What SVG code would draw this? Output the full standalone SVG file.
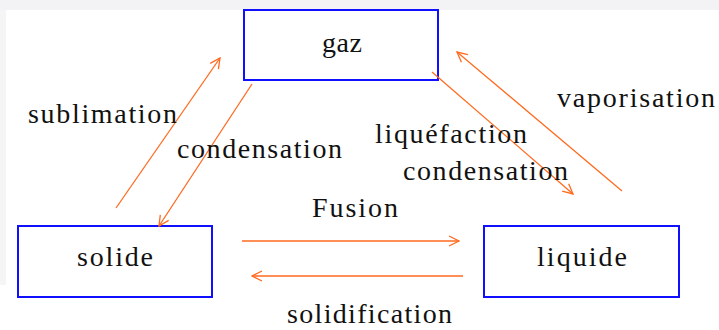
<svg xmlns="http://www.w3.org/2000/svg" width="719" height="330" viewBox="0 0 719 330">
<style>
.box{fill:#fff;stroke:#1010ff;stroke-width:2}
.lbl{font-family:"Liberation Serif","Times New Roman",serif;font-size:28px;fill:#111}
.arr{stroke:#ff6a1f;stroke-width:1.3;fill:none;marker-end:url(#ah)}
</style>
<defs>
<marker id="ah" viewBox="0 0 12 12" refX="11" refY="6" markerWidth="12" markerHeight="12" markerUnits="userSpaceOnUse" orient="auto">
<path d="M1,1 L11,6 L1,11" fill="none" stroke="#ff6a1f" stroke-width="1.3"/>
</marker>
</defs>
<rect width="719" height="330" fill="#fff"/>
<rect x="0" y="0" width="719" height="10" fill="#f3f3f5"/>
<rect x="0" y="10" width="6" height="275" fill="#f5f5f5"/>
<g id="gaz">
<rect class="box" x="244" y="10" width="194" height="70"/>
<text class="lbl" x="322" y="52" textLength="40">gaz</text>
</g>
<g id="solide">
<rect class="box" x="18" y="226" width="194" height="71"/>
<text class="lbl" x="77" y="266" textLength="76">solide</text>
</g>
<g id="liquide">
<rect class="box" x="484" y="226" width="195" height="71"/>
<text class="lbl" x="537" y="266" textLength="90">liquide</text>
</g>
<g id="connectors">
<line class="arr" x1="116" y1="208" x2="220" y2="58"/>
<line class="arr" x1="252" y1="84" x2="159" y2="226"/>
<line class="arr" x1="432" y1="72" x2="573" y2="194"/>
<line class="arr" x1="622" y1="191" x2="457" y2="52"/>
<line class="arr" x1="242" y1="241" x2="459" y2="241"/>
<line class="arr" x1="463" y1="276" x2="252" y2="276"/>
</g>
<g id="labels">
<text class="lbl" x="28" y="123" textLength="149">sublimation</text>
<text class="lbl" x="177" y="158" textLength="165">condensation</text>
<text class="lbl" x="375" y="143" textLength="152">liquéfaction</text>
<text class="lbl" x="403" y="180" textLength="165">condensation</text>
<text class="lbl" x="557" y="107" textLength="158">vaporisation</text>
<text class="lbl" x="312" y="217" textLength="86">Fusion</text>
<text class="lbl" x="287" y="323" textLength="165">solidification</text>
</g>
</svg>
